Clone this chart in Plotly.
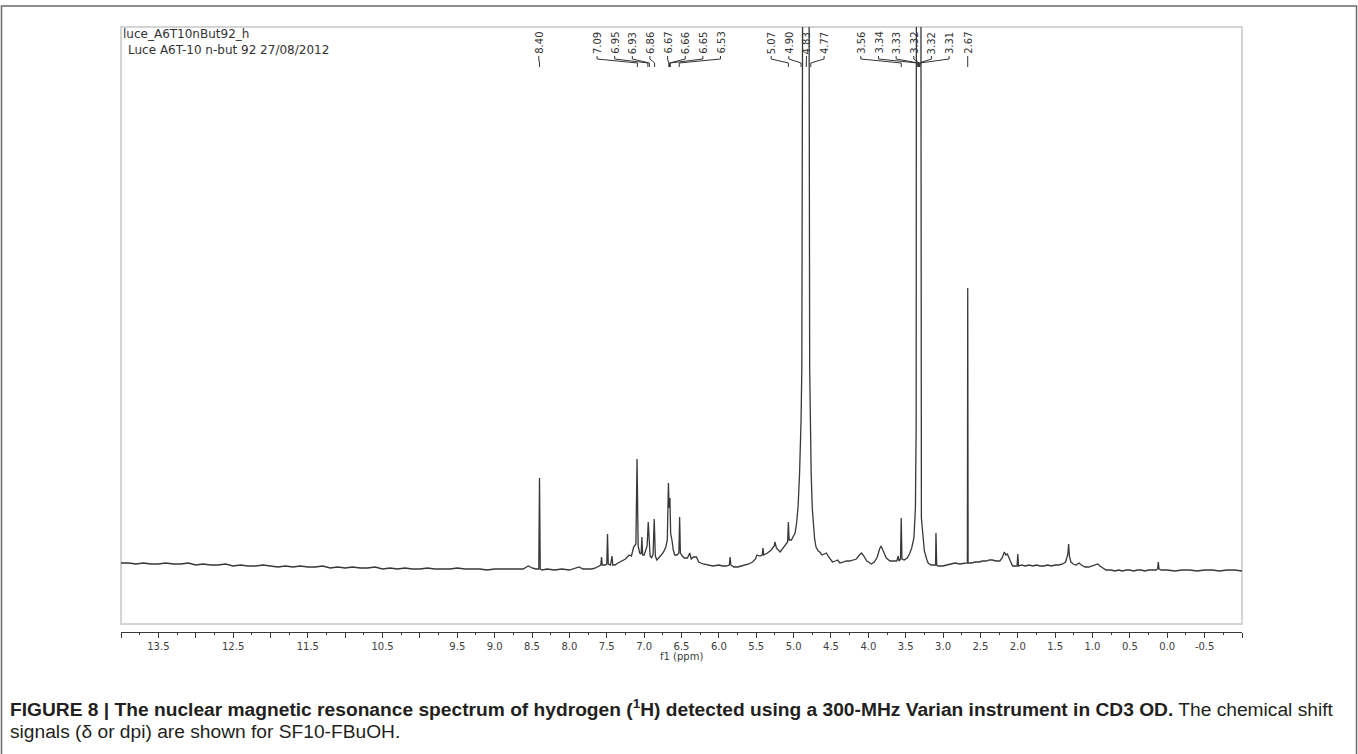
import plotly.graph_objects as go

# ------------------------------------------------------------------
# Data: chemical shift (ppm) and signal height
# (arbitrary intensity units, baseline = 0).  Very large solvent peaks
# run off the top of the panel and are clipped by the axis range.
# ------------------------------------------------------------------
ppm_a = [14.00, 13.90, 13.80, 13.70, 13.60, 13.50, 13.40, 13.30, 13.20, 13.10,
         13.00, 12.90, 12.80, 12.70, 12.60, 12.50, 12.40, 12.30, 12.20, 12.10,
         12.00, 11.90, 11.80, 11.70, 11.60, 11.50, 11.40, 11.30, 11.20, 11.10,
         11.00, 10.90, 10.80, 10.70, 10.60, 10.50, 10.40, 10.30, 10.20, 10.10,
         10.00, 9.90, 9.80, 9.70, 9.60, 9.50, 9.40, 9.30, 9.20, 9.10,
         9.00, 8.90, 8.80, 8.70, 8.62, 8.55, 8.50, 8.45, 8.41, 8.40,
         8.39, 8.36, 8.30, 8.20, 8.10, 8.00, 7.95, 7.90, 7.87, 7.82,
         7.75, 7.70, 7.65]
int_a = [5, 5, 4, 5, 4, 4, 5, 4, 4, 5,
         3, 4, 3, 3, 4, 2, 3, 2, 2, 3,
         2, 1, 2, 1, 2, 1, 1, 2, 0, 1,
         0, 1, 0, 0, 1, -1, 0, -1, 0, -1,
         -1, 0, -1, -1, -1, 0, -1, -1, -1, -2,
         -1, -1, -1, -1, -1, 2, 0, -1, -1, 90,
         -1, -2, -1, -2, -1, -2, -1, 0, 1, -1,
         -1, -1, 0]

ppm_b = [7.60, 7.58, 7.57, 7.56, 7.52, 7.50, 7.49, 7.48, 7.45, 7.43,
         7.42, 7.39, 7.35, 7.30, 7.25, 7.20, 7.17, 7.14, 7.11, 7.095,
         7.08, 7.06, 7.04, 7.03, 7.02, 7.00, 6.98, 6.96, 6.945, 6.935,
         6.92, 6.90, 6.88, 6.865, 6.85, 6.83, 6.80, 6.77, 6.74, 6.71,
         6.69, 6.675, 6.665, 6.655, 6.645, 6.63, 6.61, 6.59, 6.56, 6.535,
         6.525, 6.515, 6.49, 6.46, 6.42, 6.39, 6.37, 6.34, 6.30, 6.27,
         6.21, 6.15, 6.08]
int_b = [2, 3, 11, 3, 3, 4, 34, 4, 3, 12,
         3, 3, 5, 7, 9, 13, 12, 21, 24, 109,
         22, 15, 14, 31, 13, 13, 17, 22, 46, 30,
         12, 10, 14, 49, 12, 8, 10, 13, 16, 21,
         28, 85, 60, 70, 34, 29, 18, 13, 13, 15,
         51, 15, 12, 10, 10, 15, 9, 11, 11, 6,
         4, 3, 2]

ppm_c = [6.00, 5.95, 5.90, 5.86, 5.85, 5.84, 5.80, 5.75, 5.70, 5.65,
         5.60, 5.55, 5.51, 5.49, 5.45, 5.42, 5.41, 5.40, 5.35, 5.30,
         5.26, 5.25, 5.23, 5.18, 5.14, 5.10, 5.08, 5.07, 5.06, 5.03,
         5.00, 4.98, 4.96, 4.94, 4.92, 4.91, 4.90, 4.89, 4.87, 4.83,
         4.80, 4.785, 4.775, 4.765, 4.75, 4.74, 4.72, 4.70, 4.67, 4.65,
         4.62, 4.59, 4.56, 4.53, 4.50, 4.48, 4.44, 4.41]
int_c = [3, 2, 2, 3, 11, 3, 1, 1, 2, 3,
         4, 6, 9, 13, 12, 13, 20, 13, 15, 18,
         22, 26, 20, 16, 20, 24, 26, 46, 28, 28,
         32, 35, 45, 61, 95, 121, 148, 200, 900, 900,
         900, 200, 128, 95, 60, 48, 30, 21, 17, 16,
         13, 14, 15, 11, 8, 6, 7, 8]

ppm_d = [4.38, 4.33, 4.29, 4.25, 4.20, 4.16, 4.12, 4.09, 4.06, 4.02,
         3.98, 3.96, 3.92, 3.88, 3.85, 3.83, 3.80, 3.76, 3.71, 3.66,
         3.62, 3.60, 3.59, 3.57, 3.56, 3.55, 3.52, 3.48, 3.45, 3.42,
         3.39, 3.37, 3.36, 3.355, 3.32, 3.30, 3.29, 3.27, 3.25, 3.22,
         3.20, 3.16, 3.12, 3.10, 3.095, 3.085, 3.07, 3.03, 3.00, 2.95,
         2.90, 2.84, 2.78, 2.72, 2.675, 2.67, 2.665, 2.62, 2.57, 2.52,
         2.47, 2.42, 2.38, 2.34, 2.29, 2.24, 2.21, 2.18, 2.16, 2.14,
         2.11, 2.07, 2.03, 2.01, 2.00, 1.99]
int_d = [5, 6, 7, 7, 8, 9, 13, 15, 12, 7,
         5, 4, 6, 11, 19, 22, 17, 10, 7, 7,
         7, 12, 7, 9, 50, 9, 8, 10, 14, 20,
         30, 60, 143, 900, 900, 900, 50, 30, 17, 9,
         5, 3, 3, 3, 35, 3, 2, 2, 2, 3,
         4, 5, 4, 5, 5, 280, 5, 5, 6, 6,
         7, 7, 8, 8, 7, 7, 10, 16, 13, 14,
         8, 2, 2, 2, 14, 2]

ppm_e = [1.95, 1.90, 1.85, 1.80, 1.75, 1.70, 1.65, 1.60, 1.55, 1.50,
         1.45, 1.40, 1.36, 1.33, 1.32, 1.31, 1.29, 1.26, 1.22, 1.18,
         1.15, 1.10, 1.05, 1.00, 0.96, 0.93, 0.90, 0.86, 0.82, 0.75,
         0.70, 0.65, 0.60, 0.55, 0.50, 0.45, 0.40, 0.35, 0.30, 0.25,
         0.20, 0.15, 0.13, 0.12, 0.11, 0.08, 0.00, -0.10, -0.20, -0.30,
         -0.40, -0.50, -0.60, -0.70, -0.80, -0.90, -1.00]
int_e = [3, 2, 3, 2, 3, 2, 2, 3, 2, 3,
         3, 4, 6, 14, 24, 12, 6, 4, 3, 5,
         3, 1, 1, 2, 3, 4, 2, 0, -2, -2,
         -3, -2, -3, -2, -2, -3, -2, -2, -3, -2,
         -2, -2, -1, 6, -1, -2, -2, -3, -2, -2,
         -3, -2, -2, -3, -2, -2, -3]

# peak labels (ppm) grouped as in the multiplet annotation tree
label_single_left = [8.40]
label_group1 = [7.09, 6.95, 6.93, 6.86, 6.67, 6.66, 6.65, 6.53]
label_group2 = [5.07, 4.90, 4.83, 4.77]
label_group3 = [3.56, 3.34, 3.33, 3.32, 3.32, 3.31]
label_single_right = [2.67]

# x-axis ticks
major_ticks = [round(14.0 - 0.5 * i, 2) for i in range(31)]
labelled_ticks = [13.5, 12.5, 11.5, 10.5, 9.5, 9.0, 8.5, 8.0, 7.5, 7.0, 6.5, 6.0,
                  5.5, 5.0, 4.5, 4.0, 3.5, 3.0, 2.5, 2.0, 1.5, 1.0, 0.5, 0.0, -0.5]
minor_ticks = [round(13.75 - 0.5 * i, 2) for i in range(30)]

title_line1 = "luce_A6T10nBut92_h"
title_line2 = "Luce A6T-10 n-but 92 27/08/2012"
caption_1 = ("<b>FIGURE 8 | The nuclear magnetic resonance spectrum of hydrogen (<sup>1</sup>H) "
             "detected using a 300-MHz Varian instrument in CD3 OD.</b> The chemical shift")
caption_2 = "signals (δ or dpi) are shown for SF10-FBuOH."

# ------------------------------------------------------------------
W, H = 1358, 754
L, R, T, B = 121, 1242, 27, 632          # plotting-area box in pixels
X_RANGE = [14.0, -1.0]
Y_RANGE = [-64, 541]


def py(pix):
    return (B - pix) / (B - T)


def pxx(pix):
    return (pix - L) / (R - L)


ppm = ppm_a + ppm_b + ppm_c + ppm_d + ppm_e
inten = int_a + int_b + int_c + int_d + int_e

fig = go.Figure()
fig.add_trace(go.Scatter(x=ppm, y=inten, mode="lines",
                         line=dict(color="#383838", width=1.3),
                         hoverinfo="skip", showlegend=False))

ticktext = [("%.1f" % v if v in labelled_ticks else "") for v in major_ticks]

fig.update_layout(
    width=W, height=H, autosize=False,
    margin=dict(l=L, r=W - R, t=T, b=H - B, pad=0),
    paper_bgcolor="white", plot_bgcolor="white",
    showlegend=False,
    xaxis=dict(range=X_RANGE, showgrid=False, zeroline=False,
               showline=True, linecolor="#3a3a3a", linewidth=1,
               ticks="outside", ticklen=5, tickwidth=1, tickcolor="#3a3a3a",
               tickmode="array", tickvals=major_ticks, ticktext=ticktext,
               tickfont=dict(family="DejaVu Sans", size=10, color="#404040"),
               minor=dict(tickmode="array", tickvals=minor_ticks, ticks="outside",
                          ticklen=2, tickwidth=1, tickcolor="#3a3a3a", showgrid=False)),
    yaxis=dict(range=Y_RANGE, visible=False, showgrid=False, zeroline=False),
)

shapes = []
# light grey spectrum frame
shapes.append(dict(type="rect", xref="paper", yref="paper",
                   x0=0, x1=1, y0=py(624), y1=py(27),
                   line=dict(color="#d4d4d4", width=2), fillcolor="rgba(0,0,0,0)", layer="below"))
# outer figure border
shapes.append(dict(type="path", xref="paper", yref="paper",
                   path="M %f,%f L %f,%f L %f,%f L %f,%f" % (
                       pxx(1.5), py(770), pxx(1.5), py(6), pxx(1356.5), py(6), pxx(1356.5), py(770)),
                   line=dict(color="#6a6a6a", width=1.5)))

annotations = []
LABEL_STEP = 0.236   # spacing of labels along the axis (ppm)
groups = [(label_single_left, 8.41), (label_group1, 7.63), (label_group2, 5.30),
          (label_group3, 4.10), (label_single_right, 2.67)]
y_text = py(56)
y_a, y_b, y_c = py(59), py(63), py(67)
for vals, start in groups:
    for i, v in enumerate(vals):
        lx = start - i * LABEL_STEP
        annotations.append(dict(x=lx, y=y_text, xref="x", yref="paper",
                                text="%.2f" % v, textangle=-90, showarrow=False,
                                xanchor="center", yanchor="bottom",
                                font=dict(family="DejaVu Sans", size=10, color="#333333")))
        shapes.append(dict(type="path", xref="x", yref="paper",
                           path="M %f,%f L %f,%f L %f,%f L %f,%f" % (
                               lx, y_text, lx, y_a, v, y_b, v, y_c),
                           line=dict(color="#333333", width=1)))

# data-set titles
annotations.append(dict(x=0, y=py(34), xref="paper", yref="paper", text=title_line1,
                        showarrow=False, xanchor="left", yanchor="middle",
                        font=dict(family="DejaVu Sans", size=12, color="#333333")))
annotations.append(dict(x=0, y=py(50), xref="paper", yref="paper", text=title_line2,
                        showarrow=False, xanchor="left", yanchor="middle", xshift=5,
                        font=dict(family="DejaVu Sans", size=12, color="#333333")))
# axis title
annotations.append(dict(x=0.5, y=py(656), xref="paper", yref="paper", text="f1 (ppm)",
                        showarrow=False, xanchor="center", yanchor="middle",
                        font=dict(family="DejaVu Sans", size=10, color="#404040")))
# caption
annotations.append(dict(x=pxx(8), y=py(708), xref="paper", yref="paper", text=caption_1,
                        showarrow=False, xanchor="left", yanchor="middle",
                        font=dict(family="Liberation Sans", size=19.2, color="#231f20")))
annotations.append(dict(x=pxx(8), y=py(731), xref="paper", yref="paper", text=caption_2,
                        showarrow=False, xanchor="left", yanchor="middle",
                        font=dict(family="Liberation Sans", size=19.2, color="#231f20")))

fig.update_layout(shapes=shapes, annotations=annotations)
fig.write_html("out.html")
